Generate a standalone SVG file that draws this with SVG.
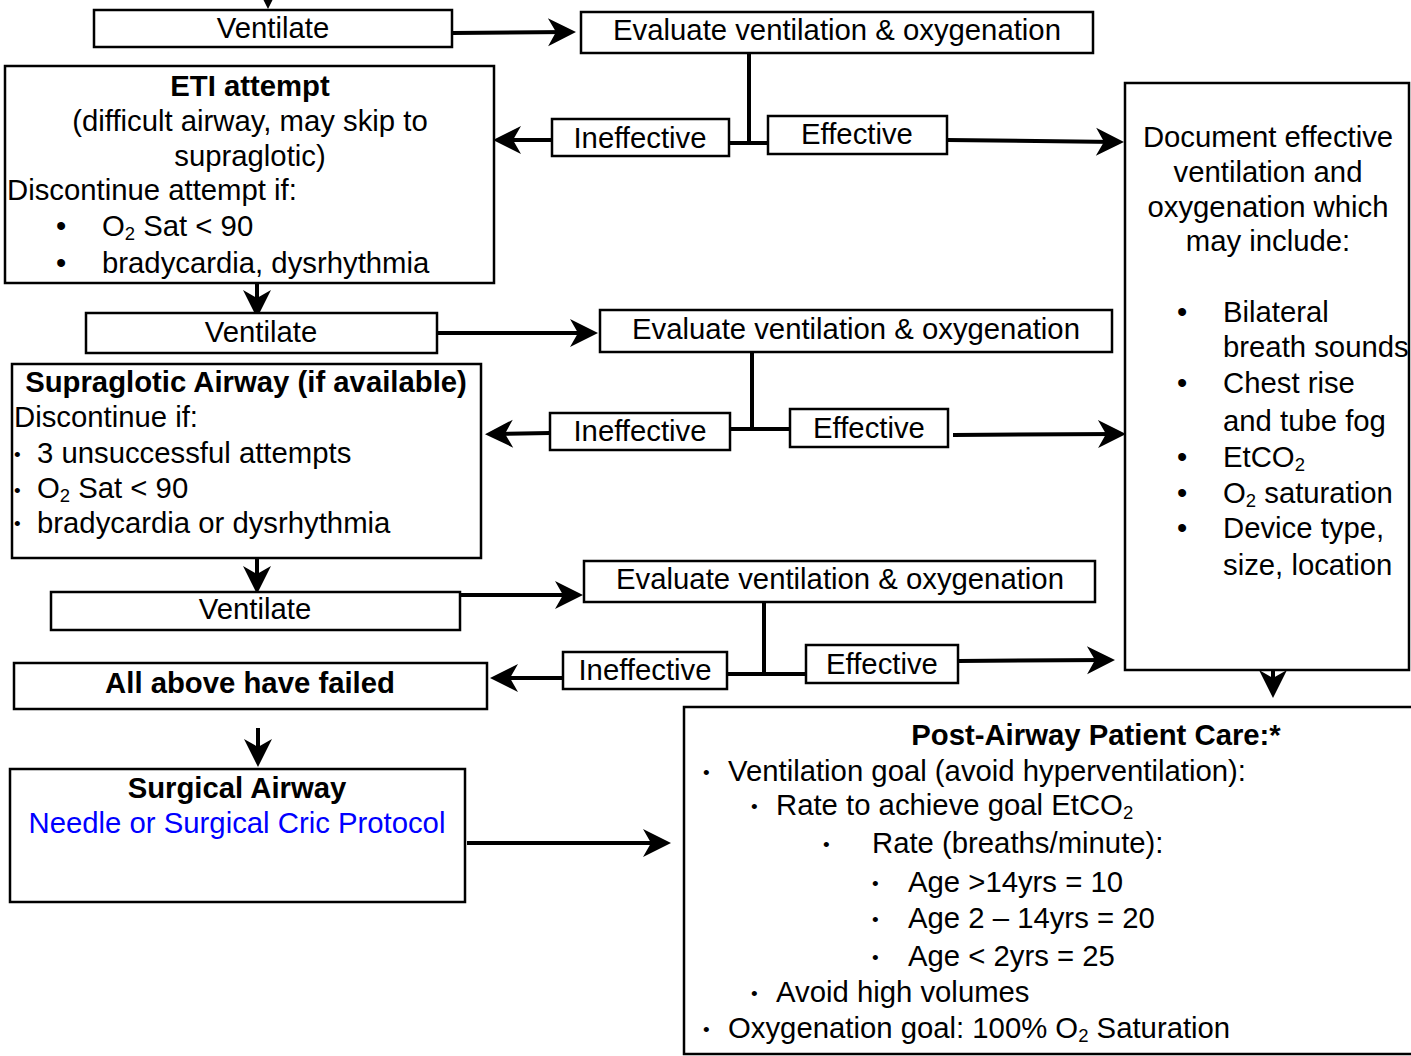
<svg xmlns="http://www.w3.org/2000/svg" width="1411" height="1056" viewBox="0 0 1411 1056">
<defs>
<style>
.box{fill:#fff;stroke:#000;stroke-width:2.5}
.t{font-family:"Liberation Sans",Arial,Helvetica,sans-serif;font-size:29.3px;fill:#000}
.b{font-weight:bold}
.c{text-anchor:middle}
.sub{font-size:18.5px}
.sb{font-size:19px}
.ln{stroke:#000;stroke-width:4;fill:none}
.arr{marker-end:url(#ah)}
</style>
<marker id="ah" markerUnits="userSpaceOnUse" viewBox="-30 -15 32 30" markerWidth="32" markerHeight="30" refX="-8" refY="0" orient="auto">
<path d="M0,0 L-28,-14 L-20,0 L-28,14 Z" fill="#000"/>
</marker>
</defs>
<rect width="1411" height="1056" fill="#fff"/>

<g id="connectors">
<line class="ln arr" x1="268" y1="-30" x2="268" y2="1"/>
<line class="ln arr" x1="452" y1="33" x2="568" y2="32"/>
<polyline class="ln" points="749,53 749,143"/>
<line class="ln" x1="726" y1="143" x2="771" y2="143"/>
<line class="ln arr" x1="552" y1="140" x2="501" y2="140"/>
<line class="ln arr" x1="947" y1="140" x2="1116" y2="142"/>
<line class="ln arr" x1="257" y1="268" x2="257" y2="310"/>
<line class="ln arr" x1="437" y1="333" x2="590" y2="333"/>
<polyline class="ln" points="752,352 752,429"/>
<line class="ln" x1="730" y1="429" x2="790" y2="429"/>
<line class="ln arr" x1="550" y1="433" x2="493" y2="434"/>
<line class="ln arr" x1="953" y1="435" x2="1118" y2="434"/>
<line class="ln arr" x1="257" y1="556" x2="257" y2="586"/>
<line class="ln arr" x1="460" y1="595" x2="575" y2="595"/>
<polyline class="ln" points="764,602 764,675"/>
<line class="ln" x1="727" y1="674" x2="806" y2="674"/>
<line class="ln arr" x1="563" y1="678" x2="498" y2="678"/>
<line class="ln arr" x1="958" y1="661" x2="1107" y2="660"/>
<line class="ln arr" x1="258" y1="728" x2="258" y2="759"/>
<line class="ln arr" x1="467" y1="843" x2="663" y2="843"/>
<line class="ln arr" x1="1273" y1="662" x2="1273" y2="690"/>
</g>

<g id="ventilate1">
<rect class="box" x="94" y="10" width="358" height="37"/>
<text class="t c" x="273" y="38">Ventilate</text>
</g>

<g id="evaluate1">
<rect class="box" x="581" y="12" width="512" height="41"/>
<text class="t c" x="837" y="40">Evaluate ventilation &amp; oxygenation</text>
</g>

<g id="eti">
<rect class="box" x="5" y="66" width="489" height="217"/>
<text class="t b c" x="250" y="96">ETI attempt</text>
<text class="t c" x="250" y="131">(difficult airway, may skip to</text>
<text class="t c" x="250" y="166">supraglotic)</text>
<text class="t" x="7" y="200">Discontinue attempt if:</text>
<text class="t" x="56" y="236">•</text>
<text class="t" x="102" y="236">O<tspan class="sub" dy="4">2</tspan><tspan dy="-4"> Sat &lt; 90</tspan></text>
<text class="t" x="56" y="273">•</text>
<text class="t" x="102" y="273">bradycardia, dysrhythmia</text>
</g>

<g id="ineffective1">
<rect class="box" x="552" y="119" width="177" height="37"/>
<text class="t c" x="640" y="148">Ineffective</text>
</g>

<g id="effective1">
<rect class="box" x="768" y="116" width="179" height="38"/>
<text class="t c" x="857" y="144">Effective</text>
</g>

<g id="document">
<rect class="box" x="1125" y="83" width="284" height="587"/>
<text class="t c" x="1268" y="147">Document effective</text>
<text class="t c" x="1268" y="182">ventilation and</text>
<text class="t c" x="1268" y="217">oxygenation which</text>
<text class="t c" x="1268" y="251">may include:</text>
<text class="t" x="1177" y="322">•</text>
<text class="t" x="1223" y="322">Bilateral</text>
<text class="t" x="1223" y="357">breath sounds</text>
<text class="t" x="1177" y="393">•</text>
<text class="t" x="1223" y="393">Chest rise</text>
<text class="t" x="1223" y="431">and tube fog</text>
<text class="t" x="1177" y="467">•</text>
<text class="t" x="1223" y="467">EtCO<tspan class="sub" dy="4">2</tspan></text>
<text class="t" x="1177" y="503">•</text>
<text class="t" x="1223" y="503">O<tspan class="sub" dy="4">2</tspan><tspan dy="-4"> saturation</tspan></text>
<text class="t" x="1177" y="538">•</text>
<text class="t" x="1223" y="538">Device type,</text>
<text class="t" x="1223" y="575">size, location</text>
</g>

<g id="ventilate2">
<rect class="box" x="86" y="313" width="351" height="40"/>
<text class="t c" x="261" y="342">Ventilate</text>
</g>

<g id="evaluate2">
<rect class="box" x="600" y="310" width="512" height="42"/>
<text class="t c" x="856" y="339">Evaluate ventilation &amp; oxygenation</text>
</g>

<g id="supraglotic">
<rect class="box" x="12" y="364" width="469" height="194"/>
<text class="t b c" x="246" y="392">Supraglotic Airway (if available)</text>
<text class="t" x="14" y="427">Discontinue if:</text>
<text class="t sb" x="14" y="461">•</text>
<text class="t" x="37" y="463">3 unsuccessful attempts</text>
<text class="t sb" x="14" y="497">•</text>
<text class="t" x="37" y="498">O<tspan class="sub" dy="4">2</tspan><tspan dy="-4"> Sat &lt; 90</tspan></text>
<text class="t sb" x="14" y="530">•</text>
<text class="t" x="37" y="533">bradycardia or dysrhythmia</text>
</g>

<g id="ineffective2">
<rect class="box" x="550" y="413" width="180" height="37"/>
<text class="t c" x="640" y="441">Ineffective</text>
</g>

<g id="effective2">
<rect class="box" x="790" y="409" width="158" height="38"/>
<text class="t c" x="869" y="438">Effective</text>
</g>

<g id="ventilate3">
<rect class="box" x="51" y="592" width="409" height="38"/>
<text class="t c" x="255" y="619">Ventilate</text>
</g>

<g id="evaluate3">
<rect class="box" x="584" y="561" width="511" height="41"/>
<text class="t c" x="840" y="589">Evaluate ventilation &amp; oxygenation</text>
</g>

<g id="ineffective3">
<rect class="box" x="563" y="652" width="164" height="37"/>
<text class="t c" x="645" y="680">Ineffective</text>
</g>

<g id="effective3">
<rect class="box" x="806" y="645" width="152" height="38"/>
<text class="t c" x="882" y="674">Effective</text>
</g>

<g id="allfailed">
<rect class="box" x="14" y="663" width="473" height="46"/>
<text class="t b c" x="250" y="693">All above have failed</text>
</g>

<g id="surgical">
<rect class="box" x="10" y="769" width="455" height="133"/>
<text class="t b c" x="237" y="798">Surgical Airway</text>
<text class="t c" x="237" y="833" style="fill:#0000ff">Needle or Surgical Cric Protocol</text>
</g>

<g id="postairway">
<rect class="box" x="684" y="707" width="740" height="347"/>
<text class="t b c" x="1096" y="745">Post-Airway Patient Care:*</text>
<text class="t sb" x="703" y="779">•</text>
<text class="t" x="728" y="781">Ventilation goal (avoid hyperventilation):</text>
<text class="t sb" x="751" y="813">•</text>
<text class="t" x="776" y="815">Rate to achieve goal EtCO<tspan class="sub" dy="4">2</tspan></text>
<text class="t sb" x="823" y="851">•</text>
<text class="t" x="872" y="853">Rate (breaths/minute):</text>
<text class="t sb" x="872" y="890">•</text>
<text class="t" x="908" y="892">Age &gt;14yrs = 10</text>
<text class="t sb" x="872" y="926">•</text>
<text class="t" x="908" y="928">Age 2 – 14yrs = 20</text>
<text class="t sb" x="872" y="964">•</text>
<text class="t" x="908" y="966">Age &lt; 2yrs = 25</text>
<text class="t sb" x="751" y="1000">•</text>
<text class="t" x="776" y="1002">Avoid high volumes</text>
<text class="t sb" x="703" y="1036">•</text>
<text class="t" x="728" y="1038">Oxygenation goal: 100% O<tspan class="sub" dy="4">2</tspan><tspan dy="-4"> Saturation</tspan></text>
</g>
</svg>
